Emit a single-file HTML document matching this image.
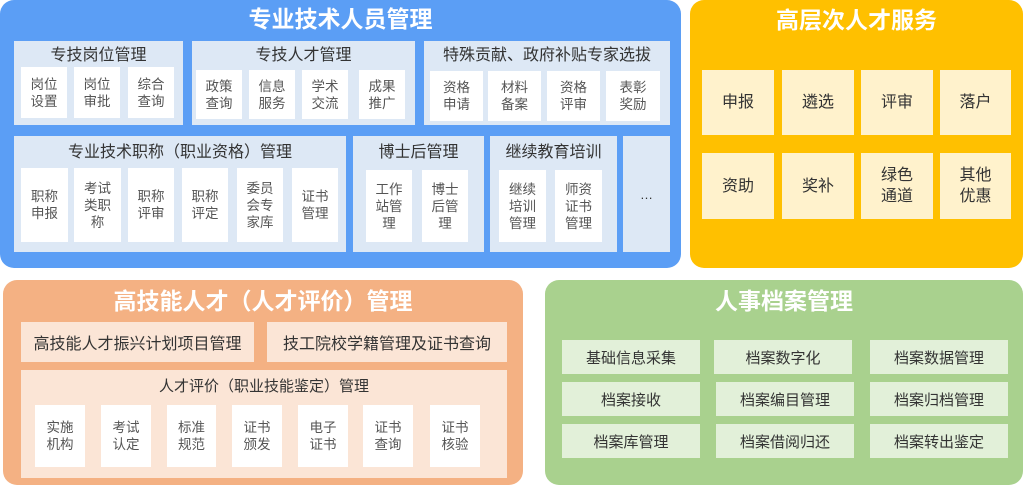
<!DOCTYPE html>
<html><head><meta charset="utf-8"><style>
*{margin:0;padding:0;box-sizing:border-box}
body{width:1024px;height:488px;background:#fff;position:relative;overflow:hidden;font-family:"Liberation Sans","Noto Sans CJK SC",sans-serif;color:#333}
.p{position:absolute;border-radius:14px}
.t{position:absolute;color:#fff;font-weight:bold;font-size:23px;text-align:center;line-height:28px}
.g{position:absolute;background:#dde8f5}
.gt{position:absolute;left:0;right:0;text-align:center;font-size:16px;line-height:20px;color:#333}
.i{position:absolute;background:#fff;display:flex;align-items:center;justify-content:center;text-align:center;font-size:13.5px;line-height:17px;color:#555}
.y{position:absolute;background:#fff2cc;display:flex;align-items:center;justify-content:center;text-align:center;font-size:16px;line-height:21px;color:#333}
.o{position:absolute;background:#fbe5d6;display:flex;align-items:center;justify-content:center;text-align:center;font-size:16px;color:#333}
.gr{position:absolute;background:#e2f0d9;display:flex;align-items:center;justify-content:center;font-size:15px;color:#333}
</style></head><body>
<div class="p" style="left:0;top:0;width:681px;height:268px;background:#5b9ef5"></div>
<div class="t" style="left:0;width:681px;top:5px">专业技术人员管理</div>

<div class="g" style="left:14px;top:41px;width:169px;height:84px"><div class="gt" style="top:5px">专技岗位管理</div></div>
<div class="i" style="left:21px;top:67px;width:46px;height:51px">岗位<br>设置</div>
<div class="i" style="left:74px;top:67px;width:46px;height:51px">岗位<br>审批</div>
<div class="i" style="left:128px;top:67px;width:46px;height:51px">综合<br>查询</div>

<div class="g" style="left:192px;top:41px;width:223px;height:84px"><div class="gt" style="top:5px">专技人才管理</div></div>
<div class="i" style="left:196px;top:70px;width:46px;height:49px">政策<br>查询</div>
<div class="i" style="left:249px;top:70px;width:46px;height:49px">信息<br>服务</div>
<div class="i" style="left:302px;top:70px;width:46px;height:49px">学术<br>交流</div>
<div class="i" style="left:359px;top:70px;width:46px;height:49px">成果<br>推广</div>

<div class="g" style="left:424px;top:41px;width:246px;height:84px"><div class="gt" style="top:5px">特殊贡献、政府补贴专家选拔</div></div>
<div class="i" style="left:430px;top:71px;width:53px;height:50px">资格<br>申请</div>
<div class="i" style="left:488px;top:71px;width:53px;height:50px">材料<br>备案</div>
<div class="i" style="left:547px;top:71px;width:53px;height:50px">资格<br>评审</div>
<div class="i" style="left:606px;top:71px;width:54px;height:50px">表彰<br>奖励</div>

<div class="g" style="left:14px;top:136px;width:332px;height:116px"><div class="gt" style="top:7px">专业技术职称（职业资格）管理</div></div>
<div class="i" style="left:21px;top:168px;width:47px;height:74px">职称<br>申报</div>
<div class="i" style="left:74px;top:168px;width:47px;height:74px">考试<br>类职<br>称</div>
<div class="i" style="left:128px;top:168px;width:46px;height:74px">职称<br>评审</div>
<div class="i" style="left:182px;top:168px;width:46px;height:74px">职称<br>评定</div>
<div class="i" style="left:237px;top:168px;width:46px;height:74px">委员<br>会专<br>家库</div>
<div class="i" style="left:292px;top:168px;width:46px;height:74px">证书<br>管理</div>

<div class="g" style="left:353px;top:136px;width:131px;height:116px"><div class="gt" style="top:7px">博士后管理</div></div>
<div class="i" style="left:366px;top:170px;width:46px;height:72px">工作<br>站管<br>理</div>
<div class="i" style="left:422px;top:170px;width:46px;height:72px">博士<br>后管<br>理</div>

<div class="g" style="left:490px;top:136px;width:127px;height:116px"><div class="gt" style="top:7px">继续教育培训</div></div>
<div class="i" style="left:499px;top:170px;width:47px;height:72px">继续<br>培训<br>管理</div>
<div class="i" style="left:555px;top:170px;width:47px;height:72px">师资<br>证书<br>管理</div>

<div class="g" style="left:623px;top:136px;width:47px;height:116px;display:flex;align-items:center;justify-content:center;font-size:13px">…</div>

<div class="p" style="left:690px;top:0;width:333px;height:268px;background:#ffc000"></div>
<div class="t" style="left:690px;width:333px;top:6px">高层次人才服务</div>
<div class="y" style="left:702px;top:70px;width:72px;height:65px">申报</div>
<div class="y" style="left:782px;top:70px;width:72px;height:65px">遴选</div>
<div class="y" style="left:861px;top:70px;width:72px;height:65px">评审</div>
<div class="y" style="left:940px;top:70px;width:71px;height:65px">落户</div>
<div class="y" style="left:702px;top:153px;width:72px;height:66px">资助</div>
<div class="y" style="left:782px;top:153px;width:72px;height:66px">奖补</div>
<div class="y" style="left:861px;top:153px;width:72px;height:66px">绿色<br>通道</div>
<div class="y" style="left:940px;top:153px;width:71px;height:66px">其他<br>优惠</div>

<div class="p" style="left:3px;top:280px;width:520px;height:205px;background:#f4b183"></div>
<div class="t" style="left:3px;width:520px;top:287px">高技能人才（人才评价）管理</div>
<div class="o" style="left:21px;top:322px;width:233px;height:40px">高技能人才振兴计划项目管理</div>
<div class="o" style="left:267px;top:322px;width:240px;height:40px">技工院校学籍管理及证书查询</div>
<div class="o" style="left:21px;top:370px;width:486px;height:108px;align-items:flex-start;padding-top:5px;font-size:15px">人才评价（职业技能鉴定）管理</div>
<div class="i" style="left:35px;top:405px;width:50px;height:62px">实施<br>机构</div>
<div class="i" style="left:101px;top:405px;width:50px;height:62px">考试<br>认定</div>
<div class="i" style="left:167px;top:405px;width:49px;height:62px">标准<br>规范</div>
<div class="i" style="left:232px;top:405px;width:50px;height:62px">证书<br>颁发</div>
<div class="i" style="left:298px;top:405px;width:50px;height:62px">电子<br>证书</div>
<div class="i" style="left:363px;top:405px;width:50px;height:62px">证书<br>查询</div>
<div class="i" style="left:430px;top:405px;width:50px;height:62px">证书<br>核验</div>

<div class="p" style="left:545px;top:280px;width:478px;height:205px;background:#a9d18e"></div>
<div class="t" style="left:545px;width:478px;top:287px">人事档案管理</div>
<div class="gr" style="left:562px;top:340px;width:138px;height:34px">基础信息采集</div>
<div class="gr" style="left:714px;top:340px;width:138px;height:34px">档案数字化</div>
<div class="gr" style="left:870px;top:340px;width:138px;height:34px">档案数据管理</div>
<div class="gr" style="left:562px;top:382px;width:138px;height:34px">档案接收</div>
<div class="gr" style="left:716px;top:382px;width:138px;height:34px">档案编目管理</div>
<div class="gr" style="left:870px;top:382px;width:138px;height:34px">档案归档管理</div>
<div class="gr" style="left:562px;top:424px;width:138px;height:34px">档案库管理</div>
<div class="gr" style="left:716px;top:424px;width:138px;height:34px">档案借阅归还</div>
<div class="gr" style="left:870px;top:424px;width:138px;height:34px">档案转出鉴定</div>
</body></html>
